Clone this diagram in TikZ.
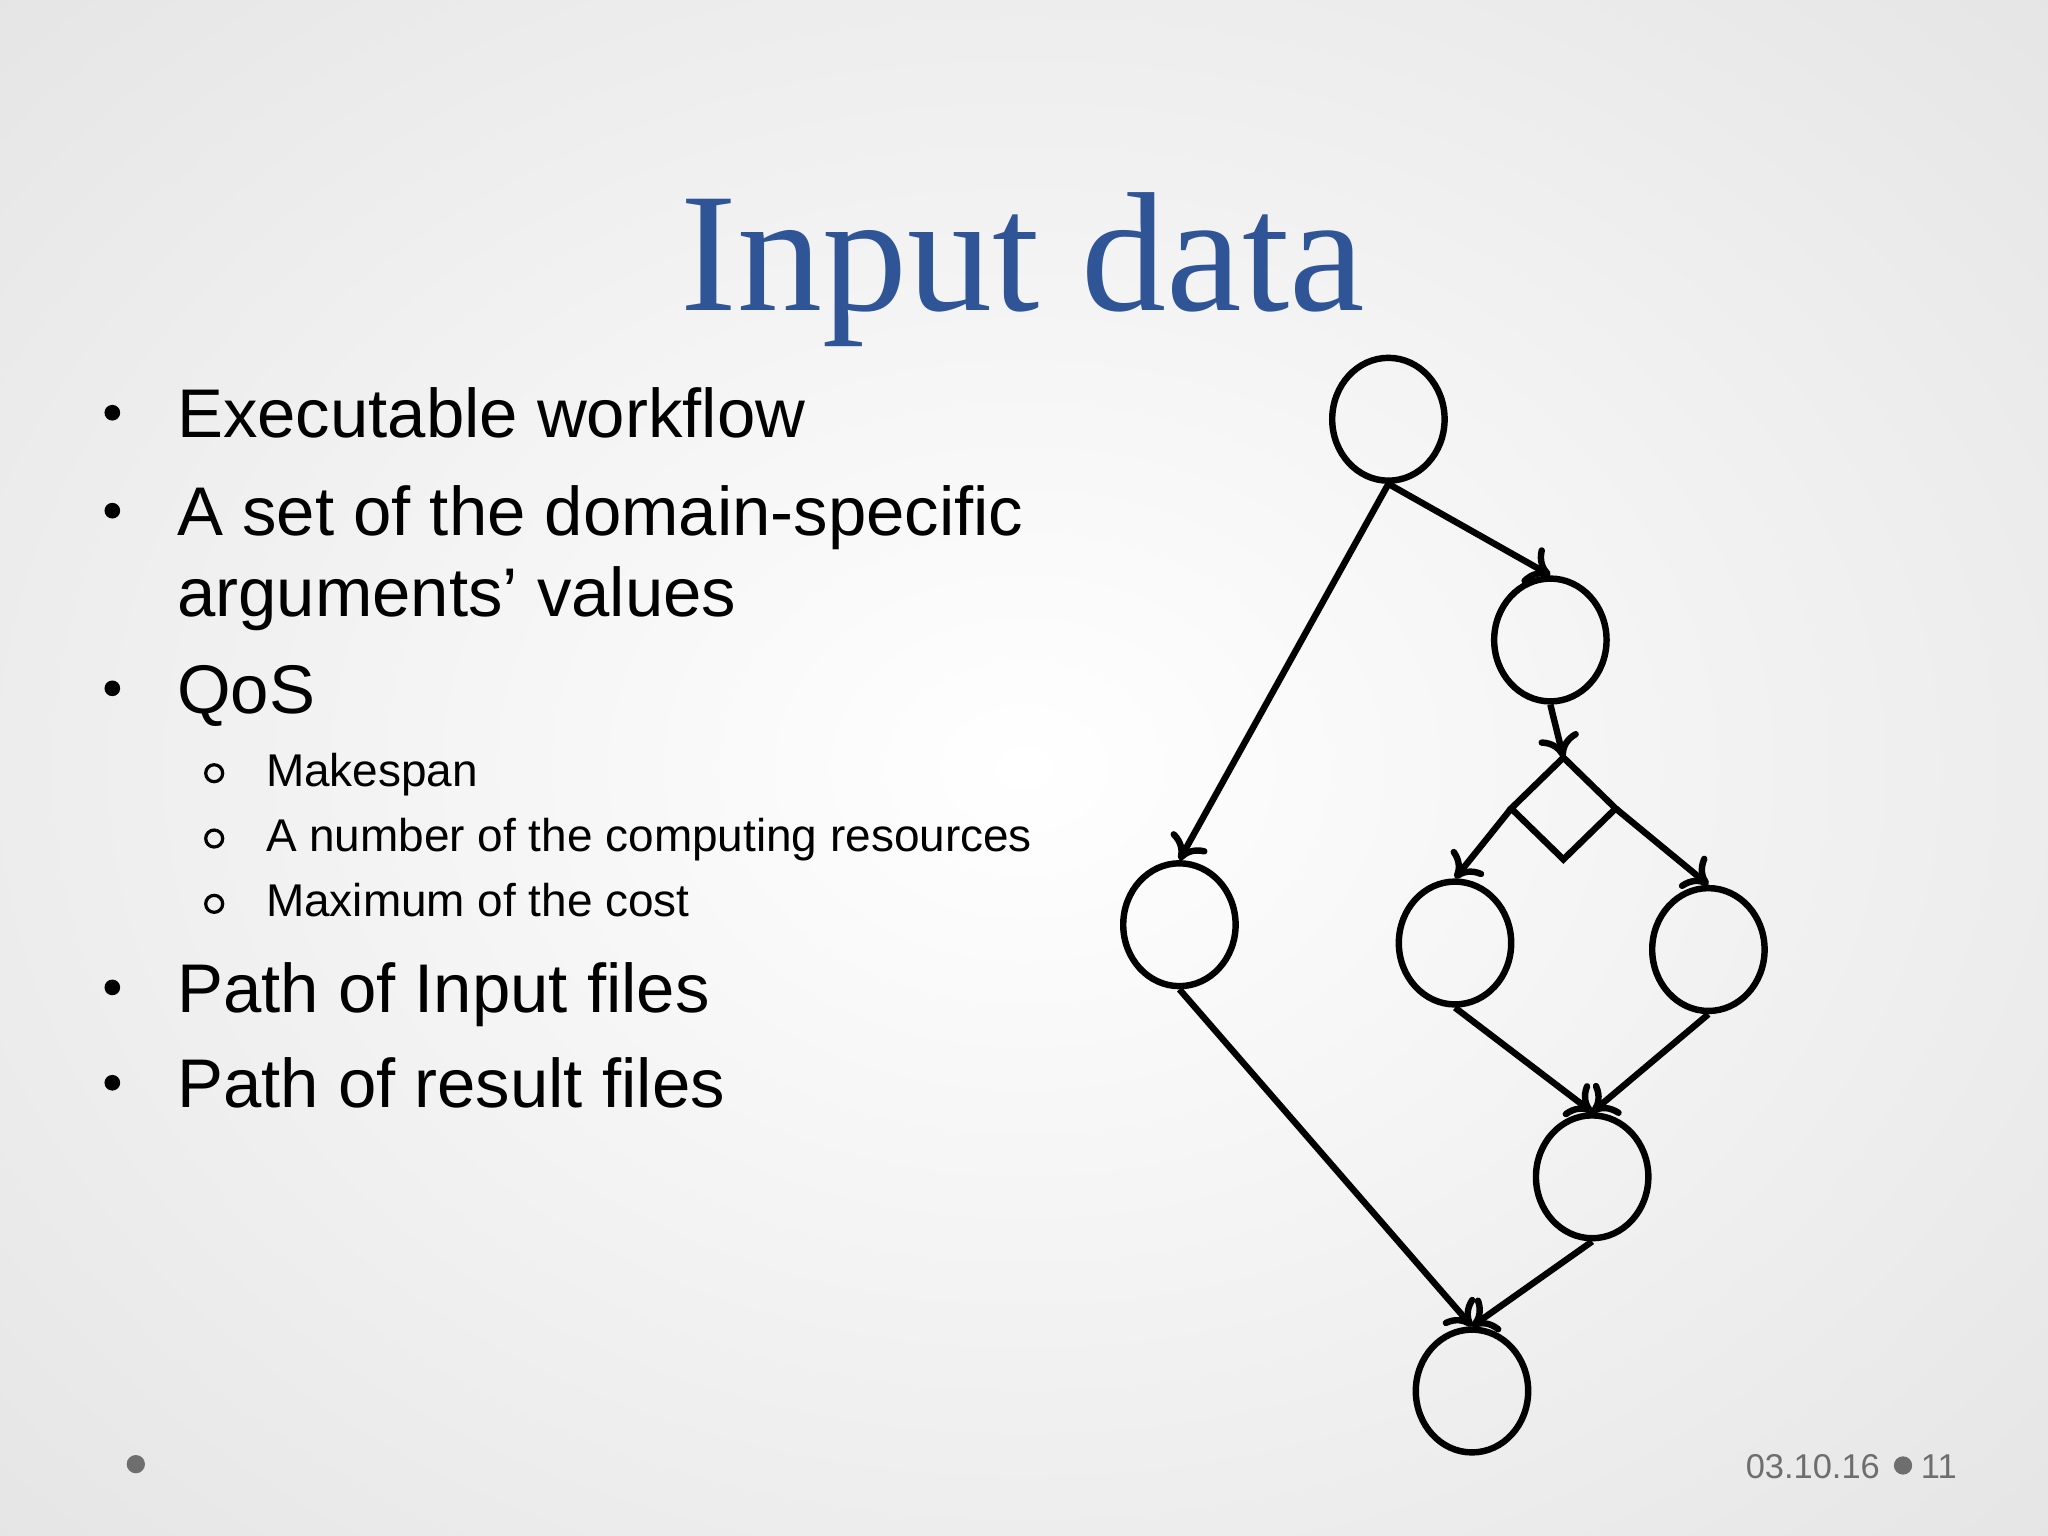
\documentclass[tikz,border=0pt]{standalone}
\usepackage{fontspec}
\setmainfont{Liberation Sans}
\newfontfamily\titlefont{Liberation Serif}
\usetikzlibrary{arrows.meta,shapes.geometric}
\definecolor{titleblue}{HTML}{2F5597}
\definecolor{footgray}{HTML}{6E6E6E}
\begin{document}
\begin{tikzpicture}[x=0.01cm,y=-0.01cm,
  task/.style={draw,line width=1.4pt,ellipse,minimum width=0.86cm,minimum height=0.94cm,inner sep=0pt},
  edge/.style={line width=1.4pt,-{To[length=5pt,width=9pt,line width=1.4pt]}},
  bul/.style={anchor=base west,inner sep=0pt,font=\fontsize{15}{18}\selectfont},
  sub/.style={anchor=base west,inner sep=0pt,font=\fontsize{10}{12}\selectfont}]
\useasboundingbox (0,0) rectangle (1568,1176);
\shade[inner color=white,outer color=black!10] (-300,-250) rectangle (1868,1426);
\clip (0,0) rectangle (1568,1176);
\node[anchor=base,font=\titlefont\fontsize{37}{40}\selectfont,text=titleblue] (title) at (783,238) {Input data};
% bullets
\foreach \y in {335,410,546,775,848} \fill (86,\y-19) circle (6);
\node[bul] (b1) at (135,335) {Executable workflow};
\node[bul] (b2) at (135,410) {A set of the domain-specific};
\node[bul] (b2b) at (135,472) {arguments’ values};
\node[bul] (b3) at (135,546) {QoS};
\foreach \y in {602,652,702} \draw[line width=0.7pt] (164,\y-10) circle (6.5);
\node[sub] (s1) at (203,602) {Makespan};
\node[sub] (s2) at (203,652) {A number of the computing resources};
\node[sub] (s3) at (203,702) {Maximum of the cost};
\node[bul] (b4) at (135,775) {Path of Input files};
\node[bul] (b5) at (135,848) {Path of result files};
% graph
\node[task] (A) at (1063,321) {};
\node[task] (B) at (1187,490) {};
\node[task] (C) at (903,708) {};
\node[task] (D) at (1114,722) {};
\node[task] (E) at (1308,727) {};
\node[task] (F) at (1219,901) {};
\node[task] (G) at (1127,1065) {};
\coordinate (dt) at (1197,580);
\coordinate (dl) at (1157,619);
\coordinate (dr) at (1237,619);
\coordinate (db) at (1197,658);
\draw[line width=1.4pt,line join=miter] (dt) -- (dr) -- (db) -- (dl) -- cycle;
\draw[edge] (A.south) -- (B.north);
\draw[edge] (A.south) -- (C.north);
\draw[edge] (B.south) -- (dt);
\draw[edge] (dl) -- (D.north);
\draw[edge] (dr) -- (E.north);
\draw[edge] (C.south) -- (G.north);
\draw[edge] (D.south) -- (F.north);
\draw[edge] (E.south) -- (F.north);
\draw[edge] (F.south) -- (G.north);
% footer
\fill[footgray] (104,1121) circle (7);
\node[anchor=base east,inner sep=0pt,text=footgray,font=\fontsize{7.5}{9}\selectfont] (date) at (1440,1132) {03.10.16};
\fill[footgray] (1457,1122) circle (7);
\node[anchor=base west,text=footgray,font=\fontsize{7.5}{9}\selectfont,inner sep=0pt] (pg) at (1470,1132) {11};
\end{tikzpicture}
\end{document}
